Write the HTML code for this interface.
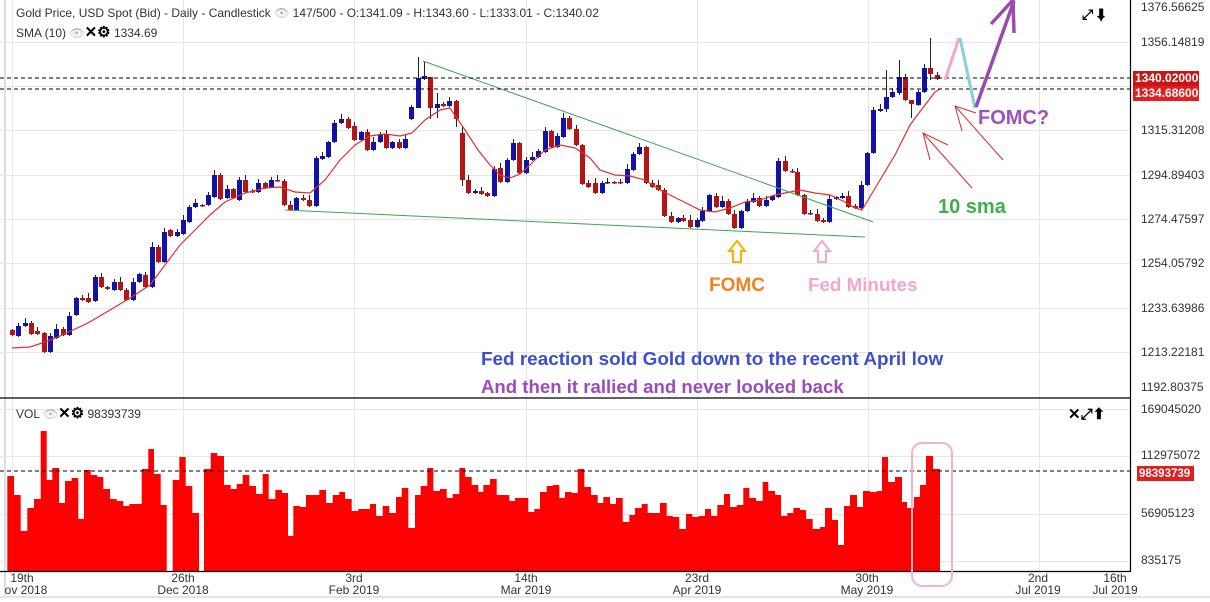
<!DOCTYPE html>
<html><head><meta charset="utf-8">
<style>
html,body{margin:0;padding:0;background:#fff;}
svg{display:block;font-family:"Liberation Sans",Arial,sans-serif;}
</style></head>
<body>
<svg id="c" width="1210" height="602" viewBox="0 0 1210 602" xmlns="http://www.w3.org/2000/svg">
<rect x="0" y="0" width="1210" height="602" fill="#fff"/>
<line x1="5" y1="0" x2="5" y2="596" stroke="#ddd" stroke-width="2"/>
<line x1="0" y1="597" x2="1210" y2="597" stroke="#e4e4e4" stroke-width="2"/>
<g id="grid" stroke="#e6e6e6" stroke-width="1"></g>
<g id="vol"></g>
<g id="cand"></g>
<polyline id="sma" fill="none" stroke="#e03030" stroke-width="1.2" points=""/>
<line x1="423" y1="61" x2="873" y2="222" stroke="#3aa84a" stroke-width="1"/>
<line x1="285" y1="210" x2="865" y2="237" stroke="#3aa84a" stroke-width="1"/>
<line x1="0" y1="78" x2="1130" y2="78" stroke="#000" stroke-dasharray="4,3"/>
<line x1="0" y1="89" x2="1130" y2="89" stroke="#000" stroke-dasharray="4,3"/>
<line x1="0" y1="471" x2="1130" y2="471" stroke="#000" stroke-dasharray="4,3"/>
<line x1="0" y1="398" x2="1130" y2="398" stroke="#000" stroke-width="1.2"/>
<line x1="0" y1="571.5" x2="1130" y2="571.5" stroke="#000" stroke-width="1.2"/>
<line x1="1130.5" y1="0" x2="1130.5" y2="572" stroke="#000" stroke-width="1.2"/>
<rect x="912" y="443" width="40" height="143" rx="10" fill="none" stroke="#f4b3c8" stroke-width="2"/>
<g font-size="12" fill="#333">
<text x="16" y="17">Gold Price, USD Spot (Bid) - Daily - Candlestick <tspan fill="#bbb">👁</tspan> 147/500 - O:1341.09 - H:1343.60 - L:1333.01 - C:1340.02</text>
<text x="16" y="37">SMA (10) <tspan fill="#bbb">👁</tspan><tspan font-weight="bold" fill="#000" font-size="15">✕⚙</tspan> 1334.69</text>
<text x="16" y="418">VOL <tspan fill="#bbb">👁</tspan><tspan font-weight="bold" fill="#000" font-size="15">✕⚙</tspan> 98393739</text>
<text x="1082" y="19" font-size="14" font-weight="bold" fill="#000">⤢ ⬇</text>
<text x="1068" y="419" font-size="15" font-weight="bold" fill="#000">✕⤢⬆</text>
</g>
<g font-size="12" fill="#333">
<text x="1141" y="11">1376.56625</text>
<text x="1141" y="46">1356.14819</text>
<text x="1141" y="134">1315.31208</text>
<text x="1141" y="179">1294.89403</text>
<text x="1141" y="223">1274.47597</text>
<text x="1141" y="267">1254.05792</text>
<text x="1141" y="312">1233.63986</text>
<text x="1141" y="356">1213.22181</text>
<text x="1141" y="391">1192.80375</text>
<text x="1141" y="413">169045020</text>
<text x="1141" y="459">112975072</text>
<text x="1141" y="517">56905123</text>
<text x="1141" y="564">835175</text>
</g>
<rect x="1133" y="71" width="66" height="15" fill="#c91515"/>
<rect x="1133" y="86" width="66" height="15" fill="#e02020"/>
<rect x="1137" y="466" width="57" height="15" fill="#e02020"/>
<g font-size="12" font-weight="bold" fill="#fff">
<text x="1135" y="82">1340.02000</text>
<text x="1135" y="97">1334.68600</text>
<text x="1139" y="477" font-size="11.5">98393739</text>
</g>
<g font-size="12" fill="#333" text-anchor="middle">
<text x="22" y="582">19th</text><text x="26" y="594">ov 2018</text>
<text x="183" y="582">26th</text><text x="183" y="594">Dec 2018</text>
<text x="354" y="582">3rd</text><text x="354" y="594">Feb 2019</text>
<text x="526" y="582">14th</text><text x="526" y="594">Mar 2019</text>
<text x="697" y="582">23rd</text><text x="697" y="594">Apr 2019</text>
<text x="867" y="582">30th</text><text x="867" y="594">May 2019</text>
<text x="1038" y="582">2nd</text><text x="1038" y="594">Jul 2019</text>
<text x="1115" y="582">16th</text><text x="1115" y="594">Jul 2019</text>
</g>
<path d="M737,241 L729,251 L733,251 L733,262 L741,262 L741,251 L745,251 Z" fill="none" stroke="#f5b400" stroke-width="2"/>
<path d="M822,241 L814,251 L818,251 L818,262 L826,262 L826,251 L830,251 Z" fill="none" stroke="#f4a9c4" stroke-width="2"/>
<g font-weight="bold" font-size="20">
<text x="709" y="291" font-size="19" fill="#f5821f">FOMC</text>
<text x="808" y="291" font-size="18.8" fill="#f4a6c6">Fed Minutes</text>
<text x="938" y="213" fill="#3cb04a">10 sma</text>
<text x="978" y="124" fill="#a050b8">FOMC?</text>
<text x="481" y="365" font-size="18.9" fill="#3b4fcf">Fed reaction sold Gold down to the recent April low</text>
<text x="481" y="393" font-size="18.6" fill="#9b4bbd">And then it rallied and never looked back</text>
</g>
<line x1="945" y1="80" x2="959" y2="38" stroke="#f4a6c6" stroke-width="3"/>
<line x1="960" y1="38" x2="975" y2="108" stroke="#89cfe0" stroke-width="3"/>
<line x1="976" y1="107" x2="1014" y2="1" stroke="#9b4bb0" stroke-width="3.5"/>
<polyline points="991,24 1013,0 1014,33" fill="none" stroke="#9b4bb0" stroke-width="3.5"/>
<g stroke="#d03030" stroke-width="1" fill="none">
<line x1="923" y1="133" x2="972" y2="188"/><polyline points="930,160 923,133 948,145"/>
<line x1="955" y1="106" x2="1003" y2="160"/><polyline points="962,131 955,106 976,113"/>
</g>
</svg>
<script>
(function(){
var NS="http://www.w3.org/2000/svg";
function el(p,t,a){var e=document.createElementNS(NS,t);for(var k in a)e.setAttribute(k,a[k]);p.appendChild(e);return e;}
var g=document.getElementById('grid');
[42,86,130,175,219,263,308,352,409,456,514,561].forEach(function(y){el(g,'line',{x1:0,y1:y+.5,x2:1130,y2:y+.5});});
[12,183,354,526,697,868,1039].forEach(function(x){el(g,'line',{x1:x+.5,y1:0,x2:x+.5,y2:571});});
var v=[[7.3,476],[14,495],[20.7,531],[27.3,508],[34,499],[40.7,431],[46.7,480],[52.3,468],[59,503],[65,481],[71.7,478],[78.3,519],[84,470],[90.7,475],[97.3,477],[103.3,489],[110,499],[116.7,501],[123.3,506],[129.3,504],[136,504],[141.7,469],[148.3,449],[154,474],[160.7,505],[166.7,571],[172.7,480],[179.3,457],[185.7,486],[192.3,513],[199,571],[204,469],[210.7,453],[217.3,456],[224,485],[230.7,489],[236.7,484],[242.7,475],[249.3,486],[256,494],[262.7,474],[268.7,499],[275.3,490],[282,493],[288,536],[293.3,506],[300,507],[306,495],[312.7,495],[319.3,490],[326,503],[332.7,495],[339.3,492],[345,499],[351.7,511],[358.3,509],[365,509],[370,504],[376,516],[382.7,506],[389.3,513],[396,497],[401.7,488],[408.3,528],[415,495],[420.7,486],[427.3,468],[433.3,491],[440,489],[446.7,498],[452.7,494],[459.3,468],[465,477],[471.7,485],[478.3,492],[483.3,485],[490,479],[496.7,495],[502.7,495],[509.3,501],[515,498],[521.7,498],[528.3,512],[534.3,509],[540,492],[546.7,486],[552.7,485],[559.3,498],[565,492],[571.7,493],[577.7,469],[584.3,487],[591,495],[597.7,503],[603.3,497],[610,504],[616,498],[622.7,522],[629.3,515],[635,508],[641.7,504],[647.7,513],[654,513],[660,503],[666.7,516],[672.7,517],[679.3,529],[686,514],[692.3,517],[698.3,516],[705,509],[711,516],[717.3,505],[724,494],[730,507],[736.7,505],[743.3,488],[749.3,498],[756,501],[762.7,482],[768.3,491],[775,495],[781,516],[787.3,513],[793.3,508],[800,510],[806,519],[812.7,529],[820,527],[825,508],[832,520],[838,545],[844,506],[850,495],[857,507],[863,491],[870,492],[877,491],[882,457],[888,482],[895,477],[902,502],[907,508],[914,497],[920,485],[926,456],[933,469]];
var d='M7.3,571.5';
for(var i=0;i<v.length;i++){d+=' V'+v[i][1]+' H'+(i+1<v.length?v[i+1][0]:940);}
d+=' V571.5 Z';
el(document.getElementById('vol'),'path',{d:d,fill:'#ff0000'});
var c=[[12,330,335,0],[18,326,336,1],[25,323,326,1],[31,323,334,0],[37,331,334,0],[44,333,352,0],[50,336,352,1],[56,329,338,1],[63,329,335,0],[69,316,335,1],[76,298,315,1],[82,298,300,0],[88,298,302,0],[95,277,301,1],[101,277,287,0],[107,287,289,0],[114,282,290,1],[120,282,290,0],[126,290,300,0],[133,282,300,1],[139,274,282,1],[145,275,287,0],[152,247,287,1],[158,247,262,0],[164,232,262,1],[170,230,236,0],[177,232,236,1],[183,220,234,1],[189,207,222,1],[195,203,207,1],[202,205,206,0],[208,195,205,1],[214,175,197,1],[220,175,199,0],[227,189,198,1],[233,189,198,0],[239,180,200,1],[245,180,192,0],[252,191,192,0],[258,183,192,1],[265,183,188,0],[271,180,187,1],[277,180,181,0],[284,181,205,0],[290,205,210,0],[296,198,210,1],[303,198,200,0],[309,200,206,0],[316,158,206,1],[322,156,159,1],[328,142,157,1],[334,123,142,1],[341,119,123,1],[348,119,128,0],[354,126,140,0],[361,132,140,1],[367,132,150,0],[373,142,150,1],[380,134,142,1],[386,134,148,0],[392,142,148,1],[399,142,148,0],[405,139,148,1],[411,107,119,1],[418,78,108,1],[424,76,79,1],[430,77,108,0],[437,104,108,1],[443,104,106,0],[449,101,106,1],[456,101,119,0],[462,133,180,0],[468,180,193,0],[475,191,193,1],[481,191,194,0],[487,193,196,0],[494,169,196,1],[500,168,182,0],[507,160,182,1],[513,143,160,1],[519,143,173,0],[526,160,173,1],[532,157,160,1],[538,151,157,1],[545,131,152,1],[551,131,147,0],[557,136,147,1],[563,118,137,1],[569,118,129,0],[576,129,145,0],[582,145,184,0],[588,183,187,0],[595,183,193,0],[602,183,193,1],[607,182,183,1],[614,182,183,0],[620,182,183,0],[627,169,183,1],[633,154,170,1],[639,147,154,1],[646,147,183,0],[652,183,187,0],[658,185,190,0],[664,190,216,0],[671,216,222,0],[678,218,222,1],[683,218,221,0],[690,220,227,0],[697,220,227,1],[702,211,221,1],[709,195,211,1],[716,196,207,0],[722,201,207,1],[728,201,214,0],[734,214,228,0],[741,211,228,1],[747,202,211,1],[753,198,202,1],[759,198,206,0],[766,200,206,1],[772,196,200,1],[778,161,197,1],[785,161,171,0],[792,171,172,0],[797,172,195,0],[804,195,214,0],[810,213,214,0],[817,214,221,0],[823,220,222,0],[829,199,222,1],[836,197,199,1],[842,196,198,1],[848,196,207,0],[855,206,208,0],[861,185,208,1],[867,153,185,1],[873,110,153,1],[880,109,111,1],[886,97,109,1],[892,92,97,1],[899,77,93,1],[905,77,100,0],[911,100,104,0],[918,92,105,1],[924,68,92,1],[930,68,74,0],[937,75,79,0]];
var cg=document.getElementById('cand');
var wk={418:[57,108],424:[62,80],430:[77,119],437:[93,118],456:[100,127],930:[38,80],899:[60,95],911:[100,118],886:[70,112],462:[126,186]};
for(var i=0;i<c.length;i++){
 var x=c[i][0],t=c[i][1],b=c[i][2],up=c[i][3];
 var col=up?'#1212a8':'#b51414';
 var w=1+(i*7%5),w2=1+(i*5%5);
 var hi=t-w,lo=b+w2;
 if(wk[x]){hi=wk[x][0];lo=wk[x][1];}
 el(cg,'line',{x1:x+.5,y1:hi,x2:x+.5,y2:lo,stroke:'#222','stroke-width':1});
 el(cg,'rect',{x:x-2,y:t,width:5,height:Math.max(1.5,b-t),fill:col});
}
document.getElementById('sma').setAttribute('points','12,348 30,347 45,342 60,336 88,323 110,310 130,298 150,285 165,265 180,245 195,230 210,215 225,202 245,193 265,188 280,187 295,192 310,193 325,180 340,160 355,145 370,136 385,134 400,136 412,133 425,120 440,110 450,108 465,130 478,150 490,165 500,175 510,178 520,174 530,165 545,150 560,145 575,148 590,158 600,170 615,175 630,176 645,180 660,190 680,200 700,210 715,212 730,208 745,202 760,200 775,195 790,192 800,190 815,193 830,195 845,202 855,208 862,210 868,200 880,180 895,155 910,125 925,105 935,92 940,89');
})();
</script>
</body></html>
